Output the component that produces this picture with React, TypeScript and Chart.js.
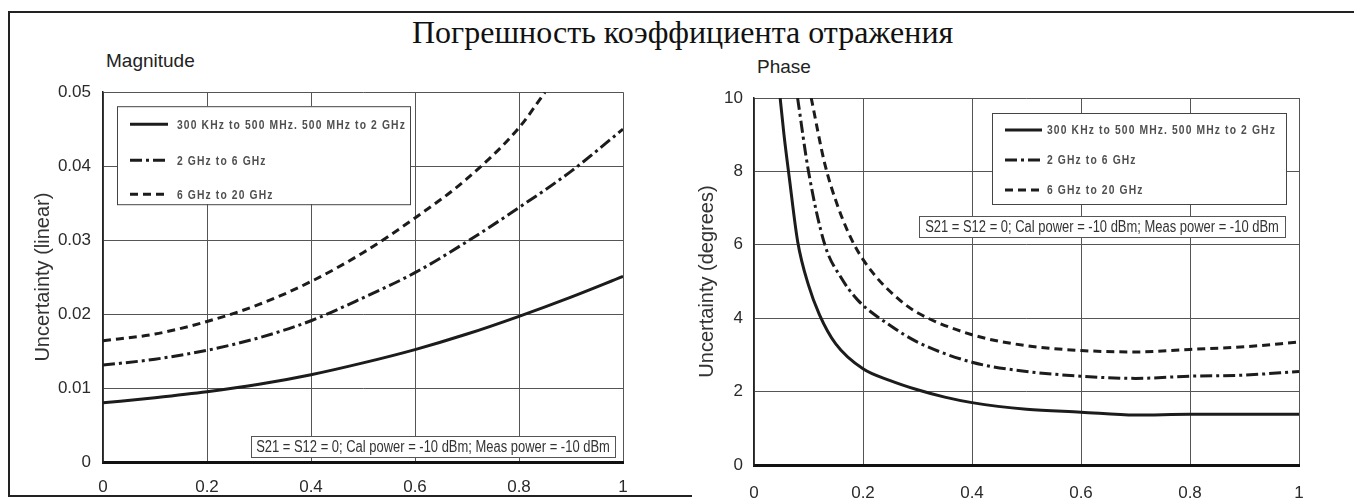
import React, { useEffect, useRef } from "react";
import { Chart, registerables } from "chart.js";

Chart.register(...registerables);

// ---------- text ----------
const TITLE = "Погрешность коэффициента отражения";
const MAG_LABEL = "Magnitude";
const PHASE_LABEL = "Phase";
const MAG_Y_TITLE = "Uncertainty (linear)";
const PHASE_Y_TITLE = "Uncertainty (degrees)";
const SERIES_NAMES = [
  "300 KHz to 500 MHz. 500 MHz to 2 GHz",
  "2 GHz to 6 GHz",
  "6 GHz to 20 GHz",
];
const NOTE = "S21 = S12 = 0; Cal power = -10 dBm; Meas power = -10 dBm";

// ---------- ticks ----------
const X_TICKS = [0, 0.2, 0.4, 0.6, 0.8, 1];
const MAG_TICKS = [0, 0.01, 0.02, 0.03, 0.04, 0.05];
const PHASE_TICKS = [0, 2, 4, 6, 8, 10];

// ---------- magnitude data ----------
const magX = [0, 0.1, 0.2, 0.3, 0.4, 0.5, 0.6, 0.7, 0.8, 0.9, 1];
const magSolid = [0.008, 0.0087, 0.0095, 0.0105, 0.0118, 0.0134, 0.0152, 0.0173, 0.0197, 0.0223, 0.0251];
const magDashDot = [0.0131, 0.0139, 0.0151, 0.0168, 0.0191, 0.0222, 0.0256, 0.0298, 0.0344, 0.0393, 0.045];
const magDashedX = [0, 0.1, 0.2, 0.3, 0.4, 0.5, 0.6, 0.7, 0.8, 0.85];
const magDashed = [0.0164, 0.0173, 0.019, 0.0213, 0.0244, 0.0283, 0.033, 0.0383, 0.0452, 0.05];

// ---------- phase data ----------
const phSolidX = [0.048, 0.055, 0.065, 0.08, 0.1, 0.12, 0.15, 0.2, 0.25, 0.3, 0.35, 0.4, 0.5, 0.6, 0.7, 0.8, 0.9, 1];
const phSolid = [10, 9, 7.8, 6.1, 4.9, 4.1, 3.3, 2.62, 2.3, 2.05, 1.85, 1.7, 1.52, 1.44, 1.36, 1.38, 1.38, 1.38];
const phDashDotX = [0.08, 0.1, 0.13, 0.16, 0.19, 0.25, 0.3, 0.4, 0.5, 0.6, 0.7, 0.8, 0.9, 1];
const phDashDot = [10, 8, 6, 5.1, 4.5, 3.8, 3.35, 2.8, 2.55, 2.42, 2.36, 2.42, 2.45, 2.55];
const phDashedX = [0.105, 0.13, 0.155, 0.184, 0.22, 0.267, 0.3, 0.4, 0.5, 0.6, 0.7, 0.8, 0.9, 1];
const phDashed = [10, 8.2, 7, 6, 5.2, 4.5, 4.15, 3.55, 3.25, 3.12, 3.08, 3.15, 3.22, 3.35];

const DASHES = [[], [12, 4, 3, 4], [8, 5]];
const INK = "#1c1c1c";
const SANS = "'Liberation Sans Narrow', 'Liberation Sans', Arial, sans-serif";

const zip = (xs: number[], ys: number[]) => xs.map((x, i) => ({ x, y: ys[i] }));

type Box = { left?: number; right?: number; top?: number; bottom?: number; w: number; h: number };

function place(a: any, b: Box) {
  const x = b.left != null ? a.left + b.left : a.right - (b.right as number) - b.w;
  const y = b.top != null ? a.top + b.top : a.bottom - (b.bottom as number) - b.h;
  return { x, y };
}

function condensedText(ctx: CanvasRenderingContext2D, text: string, x: number, y: number, sx: number) {
  ctx.save();
  ctx.translate(x, y);
  ctx.scale(sx, 1);
  ctx.fillText(text, 0, 0);
  ctx.restore();
}

const boxesPlugin = {
  id: "boxes",
  afterDatasetsDraw(chart: any, _args: any, opts: any) {
    const { ctx, chartArea: a } = chart;
    ctx.save();
    // legend
    const L = opts.legend;
    const p = place(a, L.box);
    ctx.fillStyle = "#fff";
    ctx.fillRect(p.x, p.y, L.box.w, L.box.h);
    ctx.strokeStyle = "#444";
    ctx.lineWidth = 1;
    ctx.strokeRect(p.x + 0.5, p.y + 0.5, L.box.w, L.box.h);
    chart.data.datasets.forEach((ds: any, i: number) => {
      const ry = p.y + L.rows[i];
      ctx.strokeStyle = INK;
      ctx.lineWidth = 3;
      ctx.setLineDash(ds.borderDash || []);
      ctx.beginPath();
      ctx.moveTo(p.x + L.lineX0, ry);
      ctx.lineTo(p.x + L.lineX1, ry);
      ctx.stroke();
      ctx.setLineDash([]);
      ctx.fillStyle = "#505050";
      ctx.font = `bold 12px ${SANS}`;
      (ctx as any).letterSpacing = "1.3px";
      ctx.textBaseline = "middle";
      ctx.textAlign = "left";
      condensedText(ctx, ds.label, p.x + L.textX, ry + 1, 0.86);
    });
    (ctx as any).letterSpacing = "0px";
    // note
    const N = opts.note;
    const q = place(a, N.box);
    ctx.fillStyle = "#fff";
    ctx.fillRect(q.x, q.y, N.box.w, N.box.h);
    ctx.strokeStyle = "#555";
    ctx.lineWidth = 1;
    ctx.strokeRect(q.x + 0.5, q.y + 0.5, N.box.w, N.box.h);
    ctx.fillStyle = "#333";
    ctx.font = `16px ${SANS}`;
    ctx.textBaseline = "middle";
    ctx.textAlign = "center";
    condensedText(ctx, N.text, q.x + N.box.w / 2, q.y + N.box.h / 2 + 1, 0.81);
    ctx.restore();
  },
};

function makeDatasets(sets: { x: number[]; y: number[] }[]) {
  return sets.map((s, i) => ({
    label: SERIES_NAMES[i],
    data: zip(s.x, s.y),
    borderColor: INK,
    borderWidth: 3,
    borderDash: DASHES[i],
    pointRadius: 0,
    fill: false,
    tension: 0.4,
    cubicInterpolationMode: "monotone" as const,
  }));
}

function makeConfig(o: {
  datasets: any[];
  yMax: number;
  yTicks: number[];
  yTitle: string;
  yWidth: number;
  xHeight: number;
  padding: any;
  yTitlePad: number;
  yTickPad: number;
  xTickPad: number;
  legend: any;
  note: any;
}) {
  return {
    type: "line" as const,
    data: { datasets: o.datasets },
    plugins: [boxesPlugin],
    options: {
      animation: false,
      responsive: false,
      devicePixelRatio: 1,
      layout: { padding: o.padding },
      plugins: {
        legend: { display: false },
        tooltip: { enabled: false },
        title: { display: false },
        boxes: { legend: o.legend, note: o.note },
      },
      scales: {
        x: {
          type: "linear",
          min: 0,
          max: 1,
          afterBuildTicks: (s: any) => {
            s.ticks = X_TICKS.map((v) => ({ value: v }));
          },
          afterFit: (s: any) => {
            s.height = o.xHeight;
          },
          grid: { color: "#555", lineWidth: 1, drawTicks: false },
          border: { display: true, color: "#111", width: 3 },
          ticks: {
            color: "#2a2a2a",
            padding: o.xTickPad,
            maxRotation: 0,
            font: { family: SANS, size: 17 },
            callback: (v: any) => String(v),
          },
        },
        y: {
          type: "linear",
          min: 0,
          max: o.yMax,
          afterBuildTicks: (s: any) => {
            s.ticks = o.yTicks.map((v) => ({ value: v }));
          },
          afterFit: (s: any) => {
            s.width = o.yWidth;
          },
          grid: { color: "#555", lineWidth: 1, drawTicks: false },
          border: { display: true, color: "#222", width: 1.5 },
          ticks: {
            color: "#2a2a2a",
            padding: o.yTickPad,
            font: { family: SANS, size: 17 },
            callback: (v: any) => String(v),
          },
          title: {
            display: true,
            text: o.yTitle,
            color: "#333",
            font: { family: SANS, size: 20 },
            padding: { top: o.yTitlePad, bottom: 0 },
          },
        },
      },
    },
  };
}

function ChartCanvas({ config, left, top, width, height }: any) {
  const ref = useRef<HTMLCanvasElement | null>(null);
  useEffect(() => {
    if (!ref.current) return;
    const chart = new Chart(ref.current, config);
    return () => chart.destroy();
  }, []);
  return (
    <canvas
      ref={ref}
      width={width}
      height={height}
      style={{ position: "absolute", left, top, width, height }}
    />
  );
}

export default function App() {
  const magConfig = makeConfig({
    datasets: makeDatasets([
      { x: magX, y: magSolid },
      { x: magX, y: magDashDot },
      { x: magDashedX, y: magDashed },
    ]),
    yMax: 0.05,
    yTicks: MAG_TICKS,
    yTitle: MAG_Y_TITLE,
    yWidth: 103,
    xHeight: 34,
    padding: { left: 0, top: 21, right: 37, bottom: 4 },
    yTitlePad: 31,
    yTickPad: 12,
    xTickPad: 15,
    legend: { box: { left: 14, top: 14, w: 293, h: 98 }, rows: [18, 54, 88], lineX0: 13, lineX1: 51, textX: 60 },
    note: { box: { right: 8, bottom: 5, w: 364, h: 21 }, text: NOTE },
  });
  const phaseConfig = makeConfig({
    datasets: makeDatasets([
      { x: phSolidX, y: phSolid },
      { x: phDashDotX, y: phDashDot },
      { x: phDashedX, y: phDashed },
    ]),
    yMax: 10,
    yTicks: PHASE_TICKS,
    yTitle: PHASE_Y_TITLE,
    yWidth: 94,
    xHeight: 35,
    padding: { left: 0, top: 28, right: 55, bottom: 0 },
    yTitlePad: 35,
    yTickPad: 11,
    xTickPad: 18,
    legend: { box: { right: 13, top: 15, w: 294, h: 91 }, rows: [17, 47, 77], lineX0: 13, lineX1: 50, textX: 55 },
    note: { box: { right: 14, top: 118, w: 366, h: 21 }, text: NOTE },
  });

  const line = (left: number, top: number, width: number, height: number) => (
    <div style={{ position: "absolute", left, top, width, height, background: "#222" }} />
  );

  return (
    <div style={{ position: "absolute", left: 0, top: 0, width: 1354, height: 500, overflow: "hidden", background: "#fff" }}>
      {line(8, 11, 1346, 2)}
      {line(8, 11, 2, 486)}
      {line(8, 495, 684, 2)}
      <div
        style={{
          position: "absolute",
          left: 412,
          top: 14,
          fontFamily: "'Liberation Serif', 'Times New Roman', serif",
          fontSize: 32,
          color: "#111",
          whiteSpace: "nowrap",
          lineHeight: "36px",
        }}
      >
        {TITLE}
      </div>
      <div style={{ position: "absolute", left: 106, top: 50, fontFamily: SANS, fontSize: 19, color: "#222", lineHeight: "22px" }}>
        {MAG_LABEL}
      </div>
      <div style={{ position: "absolute", left: 757, top: 56, fontFamily: SANS, fontSize: 19, color: "#222", lineHeight: "22px" }}>
        {PHASE_LABEL}
      </div>
      <ChartCanvas config={magConfig} left={0} top={70} width={660} height={430} />
      <ChartCanvas config={phaseConfig} left={660} top={70} width={694} height={430} />
    </div>
  );
}
